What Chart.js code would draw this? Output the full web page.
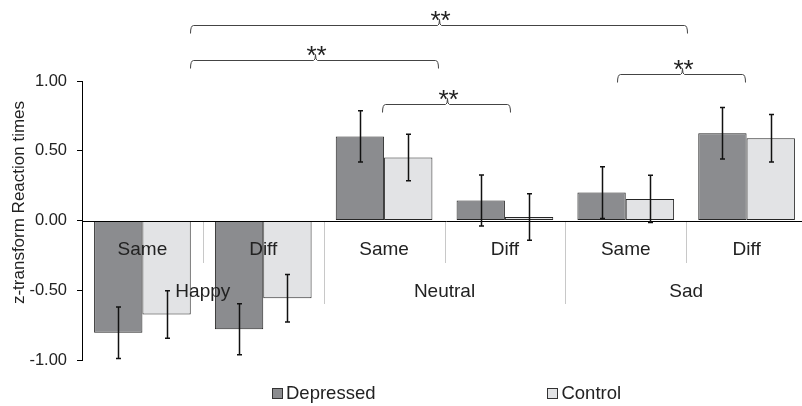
<!DOCTYPE html>
<html>
<head>
<meta charset="utf-8">
<script src="https://cdn.jsdelivr.net/npm/chart.js@4.4.1/dist/chart.umd.min.js"></script>
<style>
  html, body { margin: 0; padding: 0; background: #fff; overflow: hidden; }
  #wrap { width: 810px; height: 406px; }
</style>
</head>
<body>
<div id="wrap"><canvas id="rtChart"></canvas></div>
<script>
// z-transformed reaction times, Depressed vs Control
const conditions = ['Same', 'Diff', 'Same', 'Diff', 'Same', 'Diff'];
const emotions = ['Happy', 'Neutral', 'Sad'];
const depressed = [-0.805, -0.78, 0.603, 0.143, 0.20, 0.625];
const depressedErr = [0.185, 0.183, 0.183, 0.183, 0.185, 0.185];
const control = [-0.674, -0.557, 0.452, 0.025, 0.155, 0.59];
const controlErr = [0.17, 0.17, 0.167, 0.167, 0.17, 0.17];
const yTicks = [-1, -0.5, 0, 0.5, 1];
// significance brackets (category position from/to, height in y units)
const sigFrom = [0.39, 0.39, 1.98, 3.93];
const sigTo = [4.51, 2.45, 3.04, 4.99];
const sigY = [1.405, 1.15, 0.836, 1.05];
const sigText = ['**', '**', '**', '**'];

const FONT = '"Liberation Sans", Arial, sans-serif';
const TXT = '#222';

const annotate = {
  id: 'annotate',
  beforeDatasetsDraw(chart) {
    const { ctx, scales: { x, y } } = chart;
    const y0 = Math.round(y.getPixelForValue(0));
    ctx.save();
    ctx.strokeStyle = '#c8c8c8';
    ctx.lineWidth = 1;
    // inner separators (Same | Diff)
    [0.5, 2.5, 4.5].forEach(p => {
      const px = Math.round(x.getPixelForValue(p)) + 0.5;
      ctx.beginPath(); ctx.moveTo(px, y0); ctx.lineTo(px, y0 + 42); ctx.stroke();
    });
    // outer separators (emotion groups)
    [1.5, 3.5, 5.5].forEach(p => {
      const px = Math.round(x.getPixelForValue(p)) + 0.5;
      ctx.beginPath(); ctx.moveTo(px, y0); ctx.lineTo(px, y0 + 83); ctx.stroke();
    });
    ctx.restore();
  },
  afterDatasetsDraw(chart) {
    const { ctx, chartArea: a, scales: { x, y } } = chart;
    const y0 = Math.round(y.getPixelForValue(0)) + 0.5;
    ctx.save();
    // zero line
    ctx.strokeStyle = '#000';
    ctx.lineWidth = 1;
    ctx.beginPath(); ctx.moveTo(a.left, y0); ctx.lineTo(a.right + 5, y0); ctx.stroke();

    // error bars
    ctx.strokeStyle = '#111';
    ctx.lineWidth = 1.5;
    [depressedErr, controlErr].forEach((errs, di) => {
      const meta = chart.getDatasetMeta(di);
      const vals = chart.data.datasets[di].data;
      meta.data.forEach((bar, j) => {
        const cx = Math.round(bar.x) + 0.5;
        const t = y.getPixelForValue(vals[j] + errs[j]);
        const b = y.getPixelForValue(vals[j] - errs[j]);
        ctx.beginPath();
        ctx.moveTo(cx, t); ctx.lineTo(cx, b);
        ctx.moveTo(cx - 2.5, t); ctx.lineTo(cx + 2.5, t);
        ctx.moveTo(cx - 2.5, b); ctx.lineTo(cx + 2.5, b);
        ctx.stroke();
      });
    });

    // category labels
    ctx.fillStyle = TXT;
    ctx.font = '19px ' + FONT;
    ctx.textAlign = 'center';
    ctx.textBaseline = 'middle';
    conditions.forEach((c, i) => ctx.fillText(c, x.getPixelForValue(i), y0 + 28));
    emotions.forEach((e, i) => ctx.fillText(e, x.getPixelForValue(i * 2 + 0.5), y0 + 70));

    // significance brackets
    ctx.strokeStyle = '#444';
    ctx.lineWidth = 1;
    sigFrom.forEach((f, i) => {
      const x1 = Math.round(x.getPixelForValue(f)) + 0.5;
      const x2 = Math.round(x.getPixelForValue(sigTo[i])) + 0.5;
      const xm = Math.round((x1 + x2) / 2) + 0.5;
      const by = Math.round(y.getPixelForValue(sigY[i])) + 0.5;
      ctx.beginPath();
      ctx.moveTo(x1, by + 8);
      ctx.quadraticCurveTo(x1, by, x1 + 3, by);
      ctx.lineTo(xm - 2, by);
      ctx.quadraticCurveTo(xm, by, xm, by - 6);
      ctx.quadraticCurveTo(xm, by, xm + 2, by);
      ctx.lineTo(x2 - 3, by);
      ctx.quadraticCurveTo(x2, by, x2, by + 8);
      ctx.stroke();
      ctx.font = '26px ' + FONT;
      ctx.textBaseline = 'alphabetic';
      ctx.fillText(sigText[i], xm + 1, by + 3);
    });

    // y axis title
    ctx.save();
    ctx.font = '17px ' + FONT;
    ctx.textBaseline = 'middle';
    ctx.translate(19, (a.top + a.bottom) / 2 - 18);
    ctx.rotate(-Math.PI / 2);
    ctx.fillText('z-transform Reaction times', 0, 0);
    ctx.restore();

    // legend
    ctx.font = '18.5px ' + FONT;
    ctx.textAlign = 'left';
    ctx.textBaseline = 'middle';
    const ds = chart.data.datasets;
    const gap = 172;
    const widths = ds.map(d => 14 + ctx.measureText(d.label).width);
    const total = widths[0] + widths[1] + gap;
    let lx = Math.round((a.left + a.right) / 2 - total / 2 + 2);
    const ly = a.bottom + 33;
    ds.forEach((d, i) => {
      ctx.fillStyle = d.backgroundColor;
      ctx.fillRect(lx, ly - 5, 10, 10);
      ctx.strokeStyle = '#333';
      ctx.strokeRect(Math.round(lx) + 0.5, Math.round(ly - 5) + 0.5, 10, 10);
      ctx.fillStyle = TXT;
      ctx.fillText(d.label, lx + 14, ly + 1);
      lx += widths[i] + gap;
    });
    ctx.restore();
  }
};

new Chart(document.getElementById('rtChart'), {
  type: 'bar',
  data: {
    labels: conditions,
    datasets: [
      { label: 'Depressed', data: depressed, backgroundColor: '#8b8c8f', borderColor: '#262626', borderWidth: 1, borderSkipped: false },
      { label: 'Control', data: control, backgroundColor: '#e2e3e5', borderColor: '#262626', borderWidth: 1, borderSkipped: false }
    ]
  },
  options: {
    responsive: true,
    maintainAspectRatio: false,
    animation: false,
    layout: { padding: { top: 81, bottom: 46, left: 0, right: 3 } },
    datasets: { bar: { barPercentage: 1.0, categoryPercentage: 0.8 } },
    plugins: { legend: { display: false }, tooltip: { enabled: false } },
    scales: {
      x: { display: false },
      y: {
        min: -1, max: 1,
        afterBuildTicks: s => { s.ticks = yTicks.map(v => ({ value: v })); },
        afterFit: s => { s.width = 82; },
        border: { display: true, color: '#000', width: 1 },
        grid: { drawOnChartArea: false, drawTicks: true, tickLength: 5, color: '#000' },
        ticks: {
          padding: 10,
          color: TXT,
          font: { family: FONT, size: 16.5 },
          callback: v => v.toFixed(2)
        }
      }
    }
  },
  plugins: [annotate]
});
</script>
</body>
</html>
